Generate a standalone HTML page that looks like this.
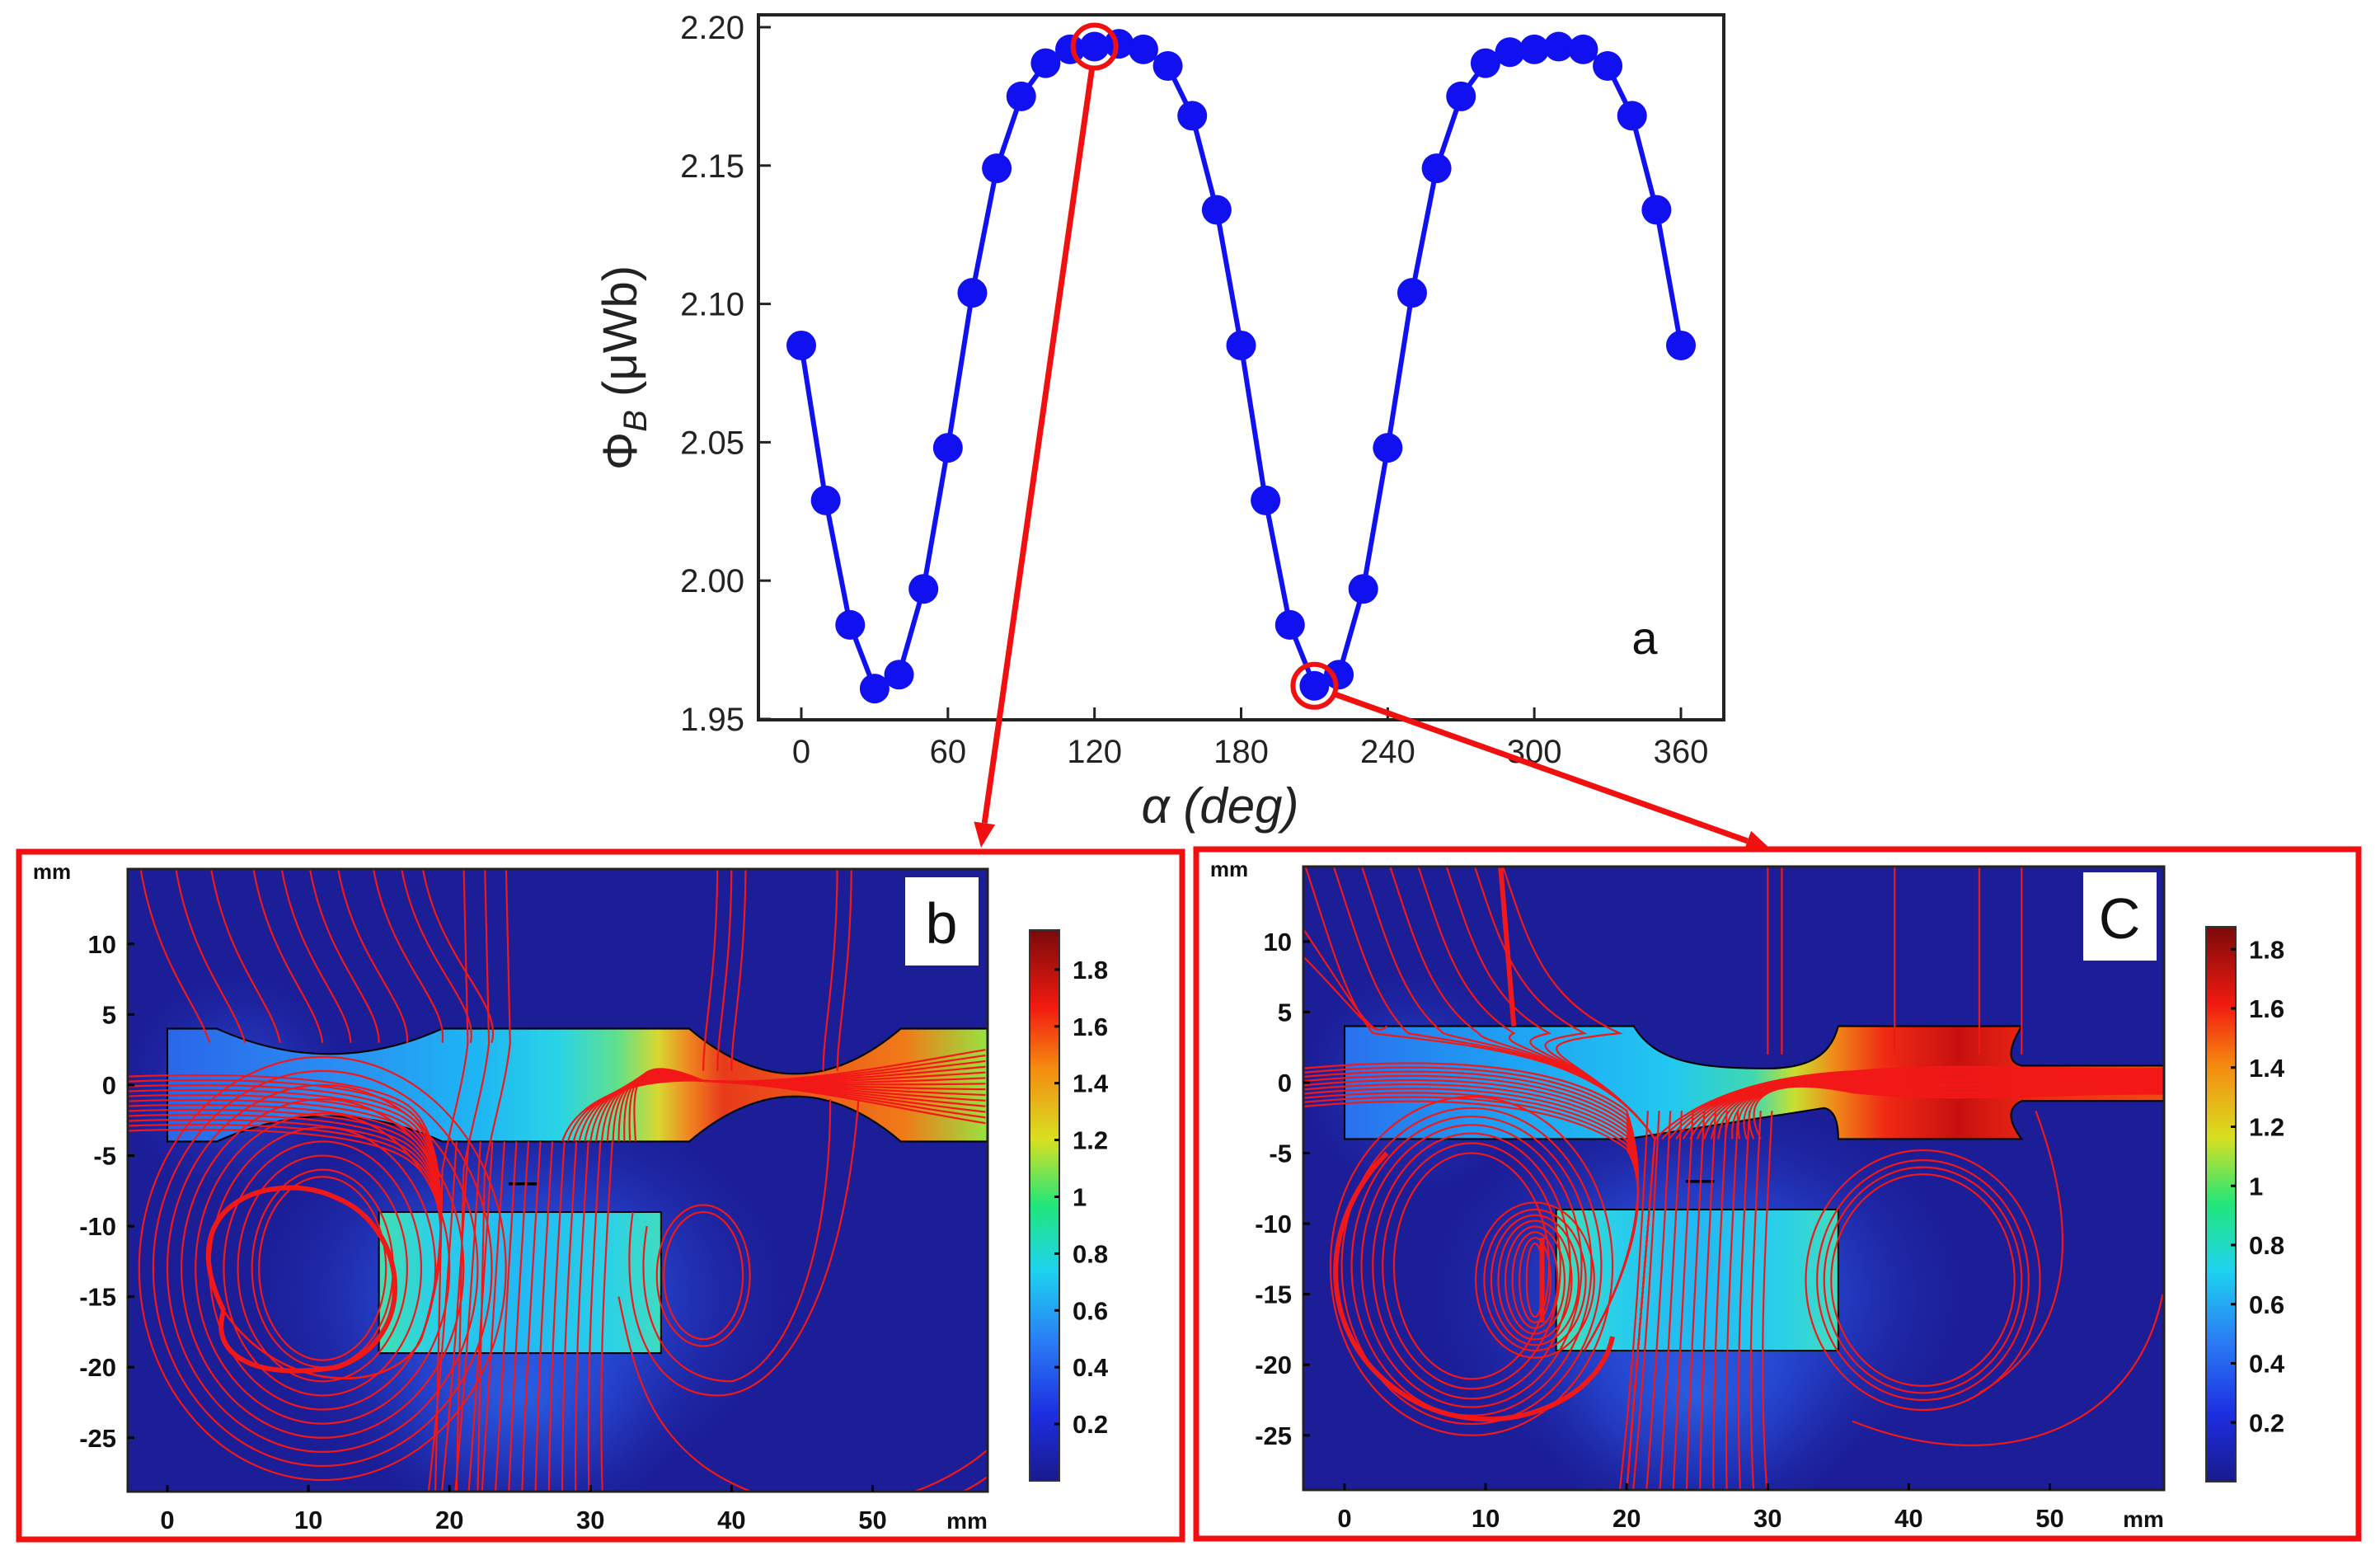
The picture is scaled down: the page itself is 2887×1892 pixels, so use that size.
<!DOCTYPE html>
<html><head><meta charset="utf-8"><style>
html,body{margin:0;padding:0;background:#fff;}
svg{display:block;}
text{font-family:"Liberation Sans",sans-serif;}
</style></head><body>
<svg id="root" width="2887" height="1892" viewBox="0 0 2887 1892" xmlns="http://www.w3.org/2000/svg">
<defs>
  <linearGradient id="jet" x1="0" y1="1" x2="0" y2="0">
    <stop offset="0" stop-color="#1a1a8c"/><stop offset="0.12" stop-color="#1c2ee0"/><stop offset="0.25" stop-color="#2a7af5"/>
    <stop offset="0.38" stop-color="#1ed2f0"/><stop offset="0.5" stop-color="#20e67a"/><stop offset="0.62" stop-color="#d8e020"/>
    <stop offset="0.75" stop-color="#f58a10"/><stop offset="0.86" stop-color="#f21a10"/><stop offset="1" stop-color="#7a0a0a"/>
  </linearGradient>
  <linearGradient id="barB" gradientUnits="userSpaceOnUse" x1="0" y1="0" x2="58" y2="0">
    <stop offset="0" stop-color="#2a66ea"/><stop offset="0.2" stop-color="#2a8cf2"/><stop offset="0.38" stop-color="#1eb6f4"/>
    <stop offset="0.48" stop-color="#2ad4e6"/><stop offset="0.55" stop-color="#60e08a"/><stop offset="0.6" stop-color="#d8d830"/>
    <stop offset="0.64" stop-color="#f08020"/><stop offset="0.68" stop-color="#e83a1a"/><stop offset="0.9" stop-color="#f07a18"/>
    <stop offset="1" stop-color="#9ae040"/>
  </linearGradient>
  <linearGradient id="barC" gradientUnits="userSpaceOnUse" x1="0" y1="0" x2="58" y2="0">
    <stop offset="0" stop-color="#2a70ee"/><stop offset="0.2" stop-color="#1ea2f4"/><stop offset="0.4" stop-color="#22c8f0"/>
    <stop offset="0.5" stop-color="#40d8b0"/><stop offset="0.55" stop-color="#c8e030"/><stop offset="0.6" stop-color="#f08818"/>
    <stop offset="0.66" stop-color="#f02a14"/><stop offset="0.75" stop-color="#c81010"/><stop offset="0.85" stop-color="#f02a14"/>
    <stop offset="1" stop-color="#f04a14"/>
  </linearGradient>
  <linearGradient id="mag" gradientUnits="userSpaceOnUse" x1="15" y1="0" x2="35" y2="0">
    <stop offset="0" stop-color="#40e0b0"/><stop offset="0.2" stop-color="#2ad0e8"/><stop offset="0.5" stop-color="#22b8f4"/>
    <stop offset="0.8" stop-color="#2ad0e8"/><stop offset="1" stop-color="#40dcc0"/>
  </linearGradient>
  <radialGradient id="glow"><stop offset="0" stop-color="#2c70f0" stop-opacity="0.95"/><stop offset="0.55" stop-color="#2850e0" stop-opacity="0.55"/><stop offset="1" stop-color="#2030b0" stop-opacity="0"/></radialGradient>
  <clipPath id="clipB"><rect x="155" y="1054" width="1043" height="755"/></clipPath>
  <clipPath id="clipC"><rect x="1581" y="1051" width="1044" height="756"/></clipPath>
</defs>
<g id="chartA"></g>
<g id="panelB"></g>
<g id="panelC"></g>
<g id="arrows"></g>
</svg>
<script>
const NS="http://www.w3.org/2000/svg";
// ---- chart a data ----
const alphaDeg=[0,10,20,30,40,50,60,70,80,90,100,110,120,130,140,150,160,170,180,190,200,210,220,230,240,250,260,270,280,290,300,310,320,330,340,350,360];
const fluxUWb=[2.085,2.029,1.984,1.961,1.966,1.997,2.048,2.104,2.149,2.175,2.187,2.192,2.193,2.194,2.192,2.186,2.168,2.134,2.085,2.029,1.984,1.962,1.966,1.997,2.048,2.104,2.149,2.175,2.187,2.191,2.192,2.193,2.192,2.186,2.168,2.134,2.085];
const xTicks=[0,60,120,180,240,300,360];
const yTicks=[1.95,2.00,2.05,2.10,2.15,2.20];
const yTickLabels=["1.95","2.00","2.05","2.10","2.15","2.20"];
const highlighted=[120,210];
const cbTicksB=[0.2,0.4,0.6,0.8,1,1.2,1.4,1.6,1.8];
const cbTicksC=[0.2,0.4,0.6,0.8,1,1.2,1.4,1.6,1.8];
const mmXTicks=[0,10,20,30,40,50];
const mmYTicks=[10,5,0,-5,-10,-15,-20,-25];

function el(parent,tag,attrs,text){const e=document.createElementNS(NS,tag);for(const k in attrs)e.setAttribute(k,attrs[k]);if(text!==undefined)e.textContent=text;parent.appendChild(e);return e;}
const X=a=>972+(a-0)*(2039-972)/360;
const Y=v=>872-(v-1.95)*(872-33)/0.25;

const A=document.getElementById('chartA');
let r=el(A,'rect',{x:920,y:18,width:1171,height:855,fill:'none',stroke:'#222','stroke-width':4});


xTicks.forEach(t=>{
  let l=el(A,'line',{x1:X(t),x2:X(t),y1:873,y2:858,stroke:'#222','stroke-width':3});
  
  
  let tx=el(A,'text',{x:X(t),y:925,'font-size':40,'text-anchor':'middle',fill:'#222','font-family':'"Liberation Sans Narrow","Liberation Sans",sans-serif'},String(t));
  
  
});
yTicks.forEach((t,i)=>{
  let l=el(A,'line',{x1:920,x2:935,y1:Y(t),y2:Y(t),stroke:'#222','stroke-width':3});
  
  
  let tx=el(A,'text',{x:903,y:Y(t)+14,'font-size':40,'text-anchor':'end',fill:'#222','font-family':'"Liberation Sans Narrow","Liberation Sans",sans-serif'},yTickLabels[i]);
  
  
});
let yl=el(A,'text',{x:0,y:0,'font-size':58,'text-anchor':'middle',fill:'#222',transform:'translate(772,446) rotate(-90)'});


yl.innerHTML='Φ<tspan font-size="40" font-style="italic" dy="12">B</tspan><tspan dy="-12"> (μWb)</tspan>';
let xl=el(A,'text',{x:1480,y:998,'font-size':60,'text-anchor':'middle',fill:'#222','font-style':'italic'},'α (deg)');


let pa=el(A,'text',{x:1995,y:793,'font-size':56,'text-anchor':'middle',fill:'#111'},'a');


let pts=alphaDeg.map((a,i)=>X(a)+','+Y(fluxUWb[i])).join(' ');
let pl=el(A,'polyline',{points:pts,fill:'none',stroke:'#1010f0','stroke-width':6});


alphaDeg.forEach((a,i)=>{
  let c=el(A,'circle',{cx:X(a),cy:Y(fluxUWb[i]),r:18,fill:'#1010f0'});
  
  
});
highlighted.forEach(a=>{
  const i=alphaDeg.indexOf(a);
  let c=el(A,'circle',{cx:X(a),cy:Y(fluxUWb[i]),r:26,fill:'none',stroke:'#f01010','stroke-width':6});
  
  
});
// arrows
const AR=document.getElementById('arrows');
function arrow(x1,y1,x2,y2){
  const ang=Math.atan2(y2-y1,x2-x1),L=30,W=13;
  const bx=x2-L*Math.cos(ang),by=y2-L*Math.sin(ang);
  let l=el(AR,'line',{x1:x1,y1:y1,x2:bx,y2:by,stroke:'#f01010','stroke-width':7});
  
  
  let p=el(AR,'polygon',{points:`${x2},${y2} ${bx+W*Math.sin(ang)},${by-W*Math.cos(ang)} ${bx-W*Math.sin(ang)},${by+W*Math.cos(ang)}`,fill:'#f01010'});
  
  
}
{const i=alphaDeg.indexOf(120);arrow(X(120)-3,Y(fluxUWb[i])+26,1190,1028);}
{const i=alphaDeg.indexOf(210);arrow(X(210)+24,Y(fluxUWb[i])+10,2148,1030);}

// ---- field panels ----
function panel(G,o){
  const S=17.11;
  const px=m=>o.x0+m*S, py=m=>o.y0-m*S;
  let b=el(G,'rect',{x:o.bx,y:o.by,width:o.bw,height:o.bh,fill:'#fff',stroke:'#f01010','stroke-width':7});
  
  
  const clip=el(G,'g',{'clip-path':`url(#${o.clip})`});
  let bg=el(clip,'rect',{x:o.pl,y:o.pt,width:o.pr-o.pl,height:o.pb-o.pt,fill:'#1c1e98'});
  
  
  const mm=el(clip,'g',{transform:`translate(${o.x0},${o.y0}) scale(${S},${-S})`});
  el(mm,'ellipse',{cx:25,cy:-15,rx:19,ry:14,fill:'url(#glow)'});
  el(mm,'ellipse',{cx:25,cy:-22,rx:12,ry:10,fill:'url(#glow)',opacity:0.7});
  el(mm,'ellipse',{cx:5,cy:0,rx:8,ry:8,fill:'url(#glow)',opacity:0.5});
  let bar=el(mm,'path',{d:o.barPath,fill:`url(#${o.barGrad})`,stroke:'#000','stroke-width':0.12});
  
  
  let mg=el(mm,'rect',{x:15,y:-19,width:20,height:10,fill:'url(#mag)',stroke:'#000','stroke-width':0.12});
  
  
  el(mm,'line',{x1:24.2,x2:26.2,y1:-7,y2:-7,stroke:'#000','stroke-width':0.2});
  const fl=el(mm,'g',{fill:'none',stroke:'#f21818','stroke-width':2.2});
  
  o.lines.forEach(d=>{el(fl,'path',{d:d,'vector-effect':'non-scaling-stroke'});});
  (o.thick||[]).forEach(d=>{el(fl,'path',{d:d,'vector-effect':'non-scaling-stroke','stroke-width':6});});
  let fr=el(G,'rect',{x:o.pl,y:o.pt,width:o.pr-o.pl,height:o.pb-o.pt,fill:'none',stroke:'#222','stroke-width':3});
  
  
  mmXTicks.forEach(t=>{
    el(G,'line',{x1:px(t),x2:px(t),y1:o.pb,y2:o.pb-8,stroke:'#000','stroke-width':3});
    let tx=el(G,'text',{x:px(t),y:o.pb+45,'font-size':31,'font-weight':'bold','text-anchor':'middle',fill:'#111'},String(t));
    
    
  });
  mmYTicks.forEach(t=>{
    el(G,'line',{x1:o.pl,x2:o.pl+8,y1:py(t),y2:py(t),stroke:'#000','stroke-width':3});
    let tx=el(G,'text',{x:o.pl-14,y:py(t)+11,'font-size':31,'font-weight':'bold','text-anchor':'end',fill:'#111'},String(t));
    
    
  });
  let u1=el(G,'text',{x:o.bx+40,y:o.pt+12,'font-size':26,'font-weight':'bold','text-anchor':'middle',fill:'#111'},'mm');
  
  
  let u2=el(G,'text',{x:o.pr-25,y:o.pb+45,'font-size':28,'font-weight':'bold','text-anchor':'middle',fill:'#111'},'mm');
  
  
  let lb=el(G,'rect',{x:o.lx,y:o.ly,width:89,height:107,fill:'#fff'});
  
  
  let lt=el(G,'text',{x:o.lx+44,y:o.ly+80,'font-size':70,'text-anchor':'middle',fill:'#111'},o.label);
  
  
  let cb=el(G,'rect',{x:o.cbx,y:o.cbt,width:36,height:o.cbb-o.cbt,fill:'url(#jet)',stroke:'#333','stroke-width':2});
  
  
  o.cbTicks.forEach(v=>{
    const y=o.cbb-v*o.cbScale;
    el(G,'line',{x1:o.cbx+30,x2:o.cbx+36,y1:y,y2:y,stroke:'#000','stroke-width':3});
    let tx=el(G,'text',{x:o.cbx+52,y:y+11,'font-size':31,'font-weight':'bold',fill:'#111'},String(v));
    
    
  });
}
function loops(cx,cy,rxs,rys){return rxs.map((rx,i)=>`M${cx-rx},${cy} a${rx},${rys[i]} 0 1,0 ${2*rx},0 a${rx},${rys[i]} 0 1,0 ${-2*rx},0`);}
// panel b lines (mm coords)
const linesB=[];
[-2,0.5,3,6,8,10,12,14.5,16.5,18].forEach((x,i)=>linesB.push(`M${x},16 C${x+1},9 ${x+4+i*0.2},6 ${x+5},3`));
[21,22.5,24].forEach(x=>linesB.push(`M${x},16 L${x+0.3},3 C${x},0 ${x-1},-3 ${x-1.5},-6 L${x-2},-29`));
[38,39,40,46.5,47.5].forEach(x=>linesB.push(`M${x+1},16 C${x+1},8 ${x},4 ${x},1`));
for(let k=0;k<12;k++){const y=0.6-k*0.35;linesB.push(`M-3,${y} C5,${y+0.3} 14,${y} 17,${y-2} C20,${y-4} 20,-12 18,-18 C16,-22 8,-22 4,-16`);}
linesB.push(...loops(11,-13,[4.5,5,6,7,8,9,10,11,12,13],[6.5,7,8,9,10,11,12,13,14,15]));
for(let k=0;k<14;k++){const x=19.5+k*0.85;linesB.push(`M${x+1},-4 C${x+0.5},-12 ${x},-20 ${x-1+k*0.1},-29`);}
for(let k=0;k<14;k++){linesB.push(`M${28+k*0.4},-4 C${29+k*0.3},${-1+k*0.1} ${33},${0.5+k*0.15} 38,0.3 C45,0 52,${1.5-k*0.25} 58,${2.5-k*0.4}`);}
linesB.push(...loops(38,-13.5,[2.8,3.3],[4.5,5]));
linesB.push(`M47,-1 C47,-12 44,-20 40,-21 C35,-21 33,-16 34,-10`,`M49,-1 C48,-14 44,-22 39,-22 C34,-22 32,-16 33,-9`);
linesB.push(`M60,-24 C55,-30 45,-32 38,-27 C34,-24 33,-20 32,-15`,`M60,-26 C56,-31 46,-32 40,-29`);
// panel c lines
const linesC=[];
[-3,-1,1,3,5,7,9,11].forEach((x,i)=>linesC.push(`M${x},16 C${x+2},10 ${x+3},6 ${x+5+i*0.5},3.5 C10,2.5 18,2 22,-4 L20,-29`));
[-3,-3].forEach((x,i)=>linesC.push(`M${x},${11-i*2} C1,5 2,3 3,4`));
[30,31,39,45,48].forEach(x=>linesC.push(`M${x},16 L${x},2`));
for(let k=0;k<10;k++){const y=1-k*0.3;linesC.push(`M-3,${y} C8,${y+1} 16,${y} 20,${y-3} C22,-8 20,-14 17,-19`);}
linesC.push(...loops(9,-13,[5.5,6.3,7,7.8,8.5,9.2,10],[8,8.7,9.4,10,10.6,11.2,12]));
linesC.push(...loops(13.5,-14,[0.6,1.1,1.6,2.1,2.6,3.1,3.6,4.2],[2.6,3,3.4,3.8,4.2,4.6,5,5.5]));
for(let k=0;k<12;k++){const x=20.5+k*0.8;linesC.push(`M${x+1},-2 C${x+0.5},-12 ${x},-20 ${x-1+k*0.15},-29`);}
for(let k=0;k<16;k++){linesC.push(`M${22+k*0.5},-4 C${25+k*0.2},${-1} 30,${0.5} 36,${0.8-k*0.1} C44,${1.5-k*0.2} 50,${0.8-k*0.1} 58,${1-k*0.12}`);}
linesC.push(...loops(41,-14,[6.5,7,7.5,8.3],[7.5,8,8.5,9.2]));
linesC.push(`M58,-15 C56,-25 46,-28 36,-24`,`M49,-2 C52,-10 52,-18 45,-22`);
const thickB=[`M4,-16 C0,-8 8,-6 12,-8 C17,-10 18,-18 12,-20 C6,-21 3,-19 4,-16`];
const thickC=[`M3,-5 C-2,-10 -2,-18 4,-22 C10,-26 18,-23 19,-18`,`M14,-11 L14,-17`,`M12,4 L11,16`];
panel(document.getElementById('panelB'),{x0:203,y0:1316,bx:23,by:1033,bw:1411,bh:834,pl:155,pr:1198,pt:1054,pb:1809,clip:'clipB',
 barPath:'M0,4 L3.5,4 Q11.5,0.4 19.5,4 L37,4 Q44.5,-2.4 52,4 L58.5,4 L58.5,-4 L52,-4 Q44.5,2.4 37,-4 L19.5,-4 Q11.5,-0.4 3.5,-4 L0,-4 Z',
 barGrad:'barB',lines:linesB,thick:thickB,label:'b',lx:1098,ly:1064,cbx:1249,cbt:1128,cbb:1796,cbScale:344.5,cbTicks:cbTicksB});
panel(document.getElementById('panelC'),{x0:1631,y0:1313,bx:1451,by:1030,bw:1410,bh:836,pl:1581,pr:2625,pt:1051,pb:1807,clip:'clipC',
 barPath:'M0,4 L20.5,4 C22,1.5 25,1 30,1 C33,1 34.5,2 35,4 L48,4 Q46.5,1.5 48,1.2 L58.5,1.2 L58.5,-1.3 L48,-1.3 Q46.5,-2 48,-4 L35,-4 Q35,-2 34,-1.8 L20,-4 L0,-4 Z',
 barGrad:'barC',lines:linesC,thick:thickC,label:'C',lx:2527,ly:1058,cbx:2676,cbt:1124,cbb:1797,cbScale:358.75,cbTicks:cbTicksC});
</script>
</body></html>
